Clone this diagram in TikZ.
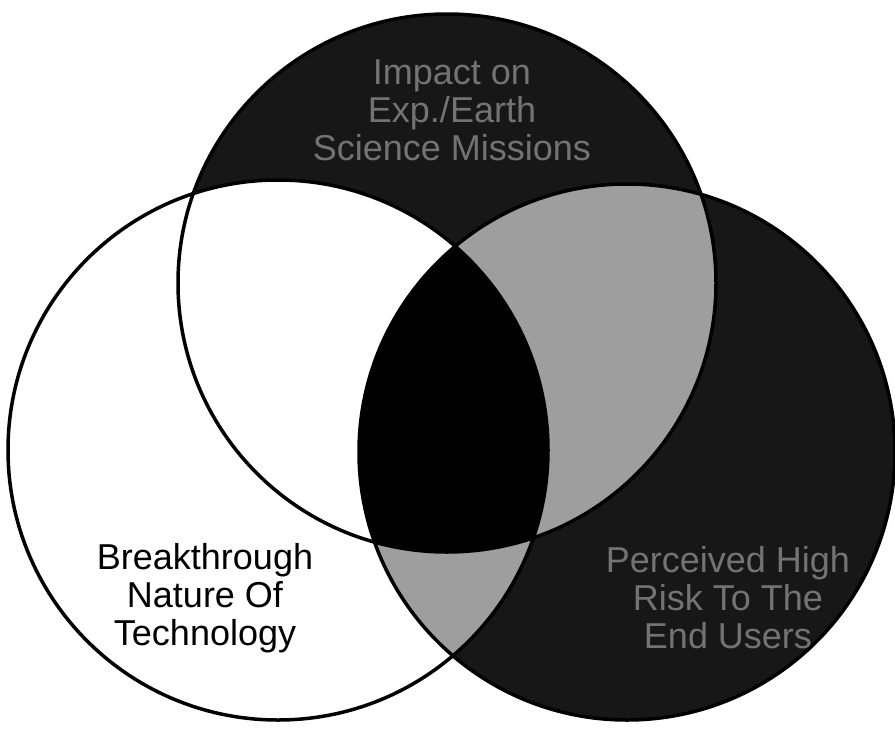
\documentclass[tikz,border=0pt]{standalone}
\usepackage{fontspec}
\setmainfont{Liberation Sans}
\begin{document}
\begin{tikzpicture}[x=1pt,y=-1pt]
  \useasboundingbox (0,0) rectangle (895,742);
  \tikzset{
    label/.style={align=center,font=\fontsize{36}{38}\selectfont,inner sep=0},
    ring/.style={draw=black,line width=3.5pt}
  }
  \def\leftc{(278,450) circle (270)}
  \def\topc{(447,283) circle (269)}
  \def\rightc{(627,452) circle (268)}
  % shaded parts
  \fill[black!91] \topc;
  \fill[black!91] \rightc;
  \begin{scope}
    \clip \topc;
    \fill[black!38] \rightc;
  \end{scope}
  \begin{scope}
    \clip \leftc;
    \fill[black!38] \rightc;
  \end{scope}
  \begin{scope}
    \clip \leftc;
    \fill[white] \topc;
  \end{scope}
  \begin{scope}
    \clip \leftc;
    \clip \topc;
    \fill[black] \rightc;
  \end{scope}
  % outlines
  \draw[ring] \leftc;
  \draw[ring] \topc;
  \draw[ring] \rightc;
  % labels
  \node[label,text=black!55] (impact) at (452,110) {Impact on\\Exp./Earth\\Science Missions};
  \node[label,text=black!55] (risk) at (728,598) {Perceived High\\Risk To The\\End Users};
  \node[label,text=black] (nature) at (205,598) {Breakthrough\\Nature Of\\Technology};
\end{tikzpicture}
\end{document}
